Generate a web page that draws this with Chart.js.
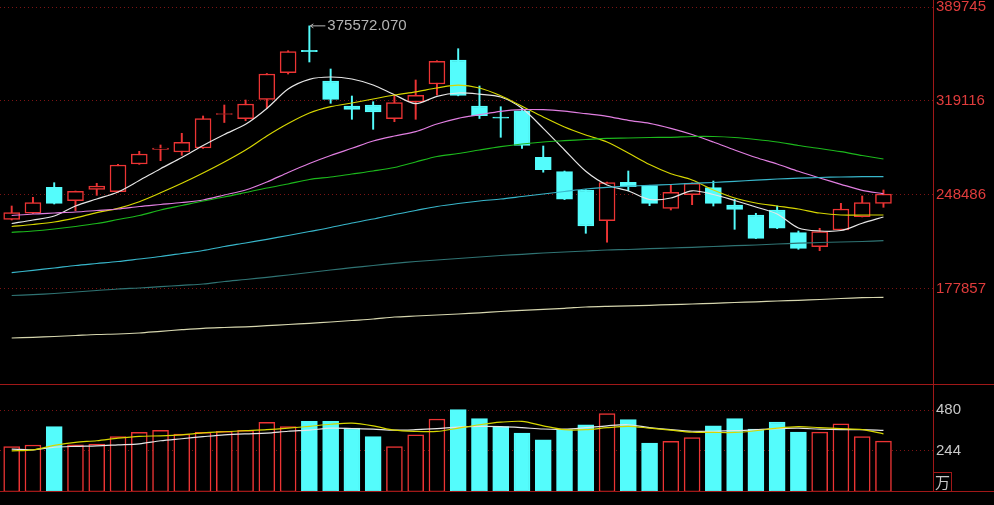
<!DOCTYPE html>
<html>
<head>
<meta charset="utf-8">
<script src="https://cdn.jsdelivr.net/npm/chart.js@4.4.1/dist/chart.umd.min.js"></script>
<style>
  html, body { margin: 0; padding: 0; background: #000; }
  #wrap { position: relative; width: 994px; height: 505px; background: #000; overflow: hidden; }
  #klineBox { position: absolute; left: 0; top: 0; width: 994px; height: 384px; }
  #volBox { position: absolute; left: 0; top: 384px; width: 994px; height: 108px; }
  .hline { position: absolute; left: 0; width: 994px; height: 1px; background: #a01818; }
  .vline { position: absolute; left: 933px; top: 0; width: 1px; height: 492px; background: #a01818; }
  #unit {
    position: absolute; left: 933px; top: 472px; width: 17px; height: 18px;
    border: 1px solid #a01818; color: #c8c8c8;
    font: 15px "Noto Sans CJK SC", sans-serif; line-height: 18px; text-align: center;
  }
</style>
</head>
<body>
<div id="wrap">
  <div id="klineBox"><canvas id="kline"></canvas></div>
  <div id="volBox"><canvas id="vol"></canvas></div>
  <div class="vline"></div>
  <div class="hline" style="top:384px"></div>
  <div class="hline" style="top:491px"></div>
  <div id="unit">万</div>
</div>
<script>
// K线数据 (开 高 低 收)
const opens  = [230230, 234740, 254270, 244200, 252770, 250970, 271780, 282820, 280800, 283800,
                308970, 305820, 320390, 340380, 357210, 334140, 315360, 316110, 305820, 318360,
                331890, 349920, 315360, 306870, 311750, 276810, 266140, 252240, 229180, 258030,
                255470, 238490, 248710, 253970, 240970, 233460, 237220, 220160, 209640, 222190,
                232180, 242250];
const highs  = [240220, 246760, 257730, 251500, 257280, 271500, 281320, 286060, 294850, 307850,
                316110, 319870, 339800, 356910, 375572.07, 343160, 322870, 318590, 323620, 334900,
                349400, 358410, 330390, 314830, 313330, 285300, 266500, 252500, 258200, 266520,
                255800, 256000, 257600, 259000, 245260, 234740, 240220, 221440, 223470, 242250,
                247740, 252240];
const lows   = [229700, 234500, 241720, 236690, 248260, 250500, 271500, 274260, 278320, 283500,
                302960, 304310, 313630, 339400, 348420, 317390, 305370, 297850, 303560, 305370,
                323620, 323000, 305970, 291840, 283430, 265620, 245000, 219710, 213020, 251720,
                240450, 237220, 241200, 240220, 222710, 215700, 223200, 207690, 206630, 222000,
                232000, 239240];
const closes = [235190, 242700, 242250, 251270, 255250, 271030, 279290, 283800, 288080, 305820,
                309720, 316860, 339400, 356160, 356160, 320390, 312880, 310850, 317840, 323400,
                348950, 323250, 308070, 306190, 285680, 267500, 245260, 225190, 257880, 254720,
                242250, 250520, 257280, 242250, 237740, 215950, 223470, 208440, 220910, 237970,
                242700, 249240];

// 均线
const ma5   = [227070, 229700, 232710, 240220, 245480, 250740, 259380, 268250, 276660, 285680,
               293940, 301610, 313480, 328130, 335420, 337150, 335650, 331140, 323850, 317090,
               322650, 325130, 324230, 322120, 313630, 298600, 282300, 266290, 256000, 251490,
               245110, 246230, 251640, 248860, 244350, 239470, 234210, 223690, 221440, 221810,
               227220, 231960];
const ma10  = [224820, 226320, 228200, 231350, 235190, 238490, 243450, 250140, 257280, 265020,
               273280, 282300, 292820, 302210, 310100, 314830, 317610, 320620, 323620, 326030,
               328880, 330990, 328880, 323020, 315130, 307090, 299580, 293570, 288310, 280040,
               271400, 264490, 259760, 252240, 246230, 242480, 240220, 237970, 234960, 233460,
               233460, 233460];
const ma20  = [233080, 234210, 234960, 235710, 236840, 237970, 239850, 241350, 242850, 244730,
               248490, 252240, 258250, 265390, 272150, 278170, 283580, 289060, 292820, 296050,
               301830, 306120, 308820, 311380, 312580, 312580, 311450, 309570, 307620, 304610,
               302360, 298600, 293940, 288310, 282300, 276660, 271780, 266290, 261260, 256520,
               252020, 249390];
const ma30  = [220460, 221440, 222940, 224820, 227070, 230080, 233080, 237220, 240600, 243980,
               246980, 250360, 253750, 256750, 260130, 262010, 264270, 266520, 269150, 273280,
               277410, 279670, 282300, 284780, 286810, 288310, 289290, 290190, 291090, 291320,
               291690, 291840, 292440, 292440, 291690, 290190, 288310, 285680, 283430, 281020,
               278170, 275540];
const ma60  = [190100, 191910, 193640, 195510, 197020, 198520, 200400, 202280, 204530, 206780,
               209790, 212420, 215200, 218060, 221060, 224070, 227450, 230450, 233830, 236840,
               239850, 242100, 243980, 245480, 247360, 249240, 251120, 252990, 254270, 255100,
               255770, 256380, 257280, 257880, 258780, 259610, 260510, 261110, 261640, 262010,
               262240, 262240];
const ma120 = [172970, 173570, 174480, 175600, 176730, 177860, 178610, 179580, 180640, 181610,
               183490, 184990, 186650, 188380, 190250, 192130, 193860, 195510, 197170, 198520,
               199650, 200770, 201900, 203030, 203930, 204910, 205660, 206410, 207160, 207540,
               208140, 208660, 209190, 209790, 210390, 210920, 211670, 212270, 212800, 213170,
               213550, 214150];
const ma250 = [141040, 141570, 142170, 142920, 143670, 144040, 144800, 146070, 147280, 148330,
               148930, 149450, 150280, 151180, 152080, 153060, 154190, 155320, 156820, 157570,
               158320, 159070, 159970, 160950, 161850, 162600, 163350, 164330, 164860, 165230,
               165610, 166130, 166590, 167110, 167710, 168240, 168840, 169370, 169970, 170720,
               171320, 171620];

// 成交量 (万)
const volumes = [267, 276, 385, 277, 281, 326, 350, 362, 340, 350,
                 356, 362, 409, 385, 415, 415, 376, 326, 267, 336,
                 429, 484, 431, 385, 346, 307, 366, 395, 460, 425,
                 287, 297, 320, 389, 432, 370, 411, 352, 352, 401,
                 326, 299];
const volMa5  = [252, 248, 263, 268, 271, 277, 283, 301, 313, 325,
                 336, 342, 346, 357, 364, 375, 373, 369, 363, 366,
                 372, 381, 385, 384, 378, 370, 369, 378, 389, 395,
                 378, 366, 357, 357, 360, 366, 372, 375, 369, 366,
                 366, 362];
const volMa10 = [242, 248, 274, 292, 301, 316, 327, 330, 336, 347,
                 354, 360, 366, 375, 386, 398, 405, 389, 363, 356,
                 356, 375, 395, 410, 415, 389, 366, 366, 378, 386,
                 375, 363, 351, 350, 350, 360, 375, 384, 378, 372,
                 366, 342];

// 刻度
const priceTicks = [389745, 319116, 248486, 177857];
const volTicks = [480, 244];

const RED = '#ec3434';
const CYAN = '#54fcfc';
const FONT = 'Liberation Sans, Arial, sans-serif';
const X_MIN = -0.55;
const X_MAX = 43.33;

const idx = closes.map((c, i) => i);
const isUp = idx.map(i => closes[i] >= opens[i]);

function toPoints(arr) {
  return arr.map((v, i) => ({ x: i, y: v }));
}

function lineSet(arr, color, width) {
  return {
    type: 'line',
    data: toPoints(arr),
    borderColor: color,
    borderWidth: width || 1.2,
    pointRadius: 0,
    tension: 0.3,
    order: 1
  };
}

function axisRight(min, max, ticks, color) {
  return {
    position: 'right',
    min: min,
    max: max,
    afterBuildTicks: scale => { scale.ticks = ticks.map(v => ({ value: v })); },
    afterFit: scale => { scale.width = 61; scale.paddingTop = 0; scale.paddingBottom = 0; },
    grid: { color: '#7c1414', lineWidth: 1, drawTicks: false },
    border: { display: false, dash: [1, 3] },
    ticks: {
      color: color,
      padding: 3,
      autoSkip: false,
      font: { family: FONT, size: 15 },
      callback: v => String(v)
    }
  };
}

// 最高价标注
const highLabel = {
  id: 'highLabel',
  afterDatasetsDraw(chart) {
    const ctx = chart.ctx;
    let top = 0;
    highs.forEach((h, i) => { if (h > highs[top]) top = i; });
    const x = chart.scales.x.getPixelForValue(top);
    const y = chart.scales.y.getPixelForValue(highs[top]);
    ctx.save();
    ctx.strokeStyle = '#b8b8b8';
    ctx.lineWidth = 1;
    ctx.beginPath();
    ctx.moveTo(x + 1, y);
    ctx.lineTo(x + 16, y);
    ctx.moveTo(x + 1, y);
    ctx.lineTo(x + 4, y - 2);
    ctx.moveTo(x + 1, y);
    ctx.lineTo(x + 4, y + 2);
    ctx.stroke();
    ctx.fillStyle = '#b4b4b4';
    ctx.font = '15px ' + FONT;
    ctx.textBaseline = 'middle';
    ctx.fillText(highs[top].toFixed(3), x + 18, y);
    ctx.restore();
  }
};

new Chart(document.getElementById('kline'), {
  type: 'bar',
  data: {
    datasets: [
      lineSet(ma250, '#d6d6ae'),
      lineSet(ma120, '#2f7373'),
      lineSet(ma60, '#38b6ca'),
      lineSet(ma30, '#1cb81c'),
      lineSet(ma20, '#e07ee0'),
      lineSet(ma10, '#d6d600'),
      lineSet(ma5, '#e6e6e6'),
      {
        // 实体
        data: idx.map(i => ({ x: i, y: [opens[i], closes[i]] })),
        backgroundColor: idx.map(i => isUp[i] ? '#000' : CYAN),
        borderColor: idx.map(i => isUp[i] ? RED : CYAN),
        borderWidth: 1.5,
        borderSkipped: false,
        barThickness: 16,
        minBarLength: 1,
        grouped: false,
        order: 2
      },
      {
        // 影线
        data: idx.map(i => ({ x: i, y: [lows[i], highs[i]] })),
        backgroundColor: idx.map(i => isUp[i] ? RED : CYAN),
        borderWidth: 0,
        barThickness: 1.3,
        grouped: false,
        order: 3
      }
    ]
  },
  options: {
    responsive: true,
    maintainAspectRatio: false,
    animation: false,
    events: [],
    layout: { padding: 0 },
    plugins: { legend: { display: false }, tooltip: { enabled: false } },
    scales: {
      x: { type: 'linear', min: X_MIN, max: X_MAX, offset: false, display: false },
      y: axisRight(106475, 395005, priceTicks, '#e03c3c')
    }
  },
  plugins: [highLabel]
});

new Chart(document.getElementById('vol'), {
  type: 'bar',
  data: {
    datasets: [
      lineSet(volMa10, '#d6d600'),
      lineSet(volMa5, '#e6e6e6'),
      {
        data: idx.map(i => ({ x: i, y: volumes[i] })),
        backgroundColor: idx.map(i => isUp[i] ? '#000' : CYAN),
        borderColor: idx.map(i => isUp[i] ? RED : CYAN),
        borderWidth: 1.5,
        borderSkipped: false,
        barThickness: 16,
        grouped: false,
        order: 2
      }
    ]
  },
  options: {
    responsive: true,
    maintainAspectRatio: false,
    animation: false,
    events: [],
    layout: { padding: 0 },
    plugins: { legend: { display: false }, tooltip: { enabled: false } },
    scales: {
      x: { type: 'linear', min: X_MIN, max: X_MAX, offset: false, display: false },
      y: axisRight(0, 634.5, volTicks, '#c8c8c8')
    }
  }
});
</script>
</body>
</html>
